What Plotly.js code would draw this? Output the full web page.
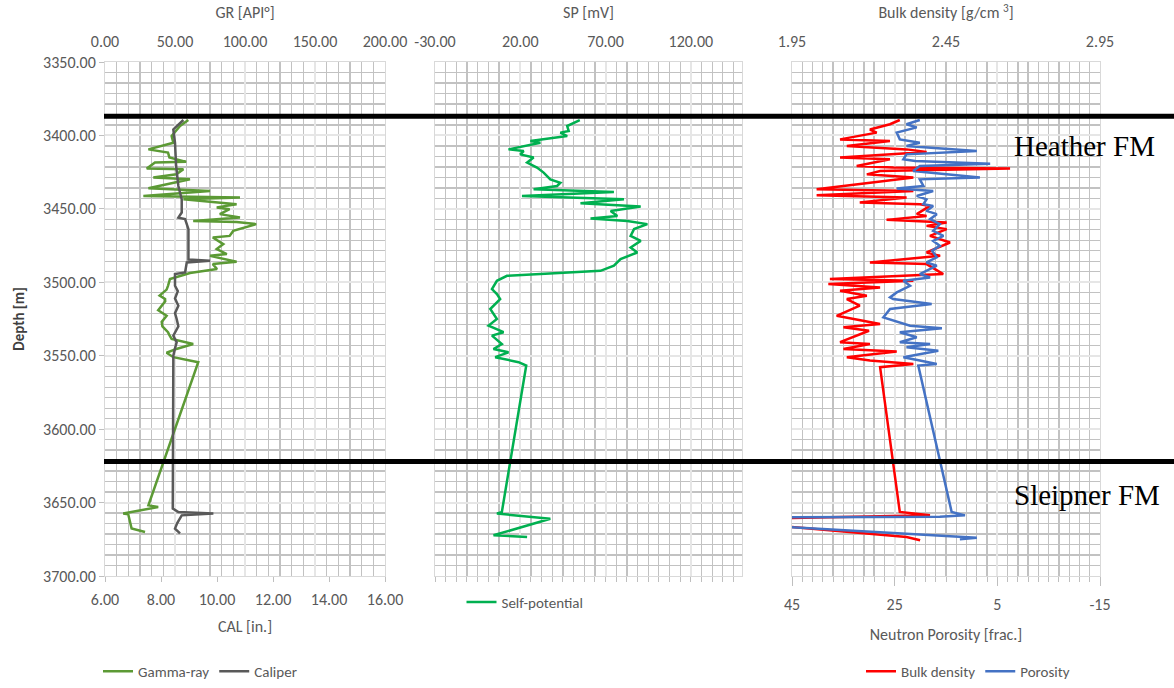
<!DOCTYPE html>
<html>
<head>
<meta charset="utf-8">
<script src="https://cdn.plot.ly/plotly-3.0.1.min.js"></script>
<style>html,body{margin:0;padding:0;background:#fff;}#chart{width:1174px;height:688px;}</style>
</head>
<body>
<div id="chart"></div>
<script>
// ---- Data ----
const gr_depth = [3389.5,3393.6,3400.4,3405,3409.5,3411.7,3415,3418,3418.5,3422.6,3423,3426.5,3428.7,3429.9,3436,3437.8,3441.2,3442.3,3443.5,3446.8,3449,3450.2,3453.6,3455.9,3458.2,3458.9,3460.4,3465,3468.4,3469.5,3474,3477.4,3480.8,3482,3486,3487.6,3491,3493.7,3495,3497.8,3502.4,3505,3509,3511.4,3513,3516,3519,3522.8,3525,3527,3530,3534,3536,3538.6,3542,3545.4,3548,3551,3554.4,3651.9,3653,3657.5,3658,3667.7,3670];
const gr_api = [59.5,53.6,47.6,48.8,31,45,46,58,35.7,29.8,56,51,34.5,60.7,31,75,27.4,96.4,56,94,79.8,89,82,96.4,63,94,108,91.6,89,77,84.5,79.8,87,75,94,77,80,60.7,56,46.4,45,44,39,42.9,43,40.5,38,44,42,40.5,41,45,46,47.6,63,51,44,48.8,66.6,31,38,13,16.6,19,28.6];

const cal_depth = [3389.5,3395.9,3405,3420.8,3434.4,3443.5,3452.5,3456,3457,3463.8,3484.5,3485.4,3486.5,3493.3,3494.4,3502.4,3506,3511,3516,3521,3525,3530,3536.4,3540.8,3545,3550,3554,3654,3656.4,3657.5,3658.7,3664,3667.7,3671];
const cal_in = [8.80,8.44,8.50,8.54,8.62,8.74,8.74,8.62,8.86,8.98,8.98,9.75,8.92,8.86,8.50,8.50,8.60,8.50,8.62,8.50,8.56,8.62,8.44,8.56,8.50,8.44,8.44,8.42,8.62,9.87,8.74,8.58,8.50,8.68];

const sp_depth = [3389.5,3393.6,3397,3398.1,3400.4,3403.8,3405,3409.5,3410.6,3412.9,3415,3418.5,3421.9,3425.3,3429.9,3432.2,3434.4,3436.7,3438.5,3441.2,3443.5,3446.2,3448.4,3451.4,3454.8,3456.6,3458.2,3460.4,3463.8,3468.4,3471.8,3476.3,3479.7,3484.2,3488.7,3492.2,3495.6,3499,3504.6,3508,3511.4,3518.2,3525,3529.5,3534,3536.3,3542,3545.4,3547.7,3551,3554.4,3556.7,3656.4,3657.5,3661,3672.3,3673.4];
const sp_mv = [54.9,47.5,48.4,43.5,47.5,25.9,31.8,13.1,22,20,27.8,24,29.8,33.7,37.6,43.5,41.6,27.8,74.9,21,80.8,55.3,90.6,73,76.9,61.2,82.7,94.5,86.7,84.7,90.6,84.7,88.6,78.8,74.9,67,12.2,6.3,3.4,6.3,8.2,2.4,6.3,1.4,10.2,3.4,9.2,4.3,13.1,5.3,19,23.5,9.2,6.3,37.6,4.3,24];

const rhob_depth = [3389.5,3392.4,3396,3398.1,3402.7,3403.8,3407.2,3409.5,3411.3,3415,3416.2,3420.8,3421.9,3422.6,3424.2,3426.5,3428.7,3431.7,3436.7,3437.8,3440.7,3442.3,3445.7,3446.8,3448,3453.6,3454.8,3457.5,3459.3,3461.6,3463.8,3468.4,3472.9,3479.7,3482,3486.5,3487.6,3494.4,3497.8,3499,3501.2,3503.5,3505.8,3509.2,3511.4,3515.9,3522.8,3528.4,3530.6,3533,3540.8,3542,3545.4,3547.2,3551,3553.3,3555.6,3557.8,3656.4,3658.7,3661.6,3673.4,3675.7];
const rhob_gcc = [2.30,2.268,2.203,2.225,2.106,2.268,2.128,2.322,2.387,2.106,2.268,2.16,2.279,2.658,2.236,2.193,2.344,2.225,2.03,2.344,2.03,2.322,2.17,2.366,2.398,2.355,2.387,2.257,2.452,2.387,2.452,2.398,2.463,2.387,2.431,2.203,2.387,2.441,2.073,2.344,2.068,2.236,2.106,2.193,2.128,2.17,2.095,2.236,2.117,2.2,2.106,2.203,2.117,2.29,2.128,2.203,2.344,2.236,2.30,2.398,1.677,2.322,2.366];

const nphi_depth = [3389.5,3392.4,3394.5,3398.1,3402.7,3405,3407.2,3410.6,3412.9,3416.2,3417.4,3419.2,3420.8,3424.2,3428.7,3429.9,3434.4,3436.2,3437.8,3441.2,3443.5,3446.8,3448,3451.4,3453.6,3457,3460.4,3465,3468.4,3471.8,3475.2,3478.5,3483,3486.5,3488.7,3494.4,3496.7,3499,3502.4,3506.9,3510.3,3511.4,3514.8,3518.2,3523.9,3527.4,3529.6,3531.3,3534,3537.4,3540.8,3542,3544.3,3546.6,3551,3553.3,3555.6,3556.7,3656.4,3658.7,3659.7,3660.5,3673.4,3674,3675];
const nphi_val = [20.1,22.7,20.7,24.6,24,20.1,22.7,9.0,22.7,23.3,21,6.4,20.1,21.4,8.4,20.1,19.4,24.6,17.5,20.7,18.8,19.4,17.5,18.8,16.8,18.1,16.2,17.5,15.5,17.5,16.2,17.7,16.8,18.8,16.8,20.1,18.1,23.3,22,24.6,25.9,25.3,17.8,25.9,27.2,24,22,15.8,24,20.7,24,18.1,22.7,16.5,23.3,20.1,16.8,20.4,13.9,11.3,16.2,77,12.9,9.0,12.3];

// tick labels (hyphen-minus as in the reference)
const sp_tickvals = [-30, 20, 70, 120];
const sp_ticklabels = ['-30.00', '20.00', '70.00', '120.00'];
const nphi_tickvals = [45, 25, 5, -15];
const nphi_ticklabels = ['45', '25', '5', '-15'];

const top_depths = [3387, 3622];
const top_names = ['Heather FM', 'Sleipner FM'];
const top_label_depths = [3407, 3645];

// ---- Styling ----
const FONT = 'Calibri, Carlito, Lato, sans-serif';
const TXT = '#595959';
const FS = 16;
const W = 1174;
const p1 = [105/W, 385/W], p2 = [435/W, 742/W], p3 = [792/W, 1100/W];
const MAJ = '#e6e6e6', MIN = '#c2c2c2', BORDER = '#d9d9d9';

function baseX(extra){
  return Object.assign({
    showgrid:false, zeroline:false, showline:true, linecolor:BORDER, linewidth:1,
    tickfont:{family:FONT, size:FS, color:TXT}, ticks:''
  }, extra);
}
function yAx(extra){
  return Object.assign({
    range:[3700,3350], tick0:3350, dtick:50, tickformat:'.2f',
    showgrid:true, gridcolor:MAJ, gridwidth:2, zeroline:false,
    showline:true, linecolor:BORDER, mirror:true,
    minor:{tick0:3350, dtick:50/7, showgrid:true, gridcolor:MIN, gridwidth:1.3},
    tickfont:{family:FONT, size:FS, color:TXT}
  }, extra);
}
function ttl(text, standoff){
  return {text:text, font:{family:FONT, size:FS, color:TXT}, standoff:standoff};
}

const traces = [
  {x:gr_api, y:gr_depth, xaxis:'x', yaxis:'y', mode:'lines', name:'Gamma-ray', legend:'legend',
   line:{color:'#5c9a35', width:2.5}},
  {x:cal_in, y:cal_depth, xaxis:'x2', yaxis:'y', mode:'lines', name:'Caliper', legend:'legend',
   line:{color:'#595959', width:2.5}},
  {x:sp_mv, y:sp_depth, xaxis:'x3', yaxis:'y2', mode:'lines', name:'Self-potential', legend:'legend2',
   line:{color:'#00b050', width:2.5}},
  {x:[], y:[], xaxis:'x4', yaxis:'y2', mode:'lines', showlegend:false, hoverinfo:'skip'},
  {x:rhob_gcc, y:rhob_depth, xaxis:'x5', yaxis:'y3', mode:'lines', name:'Bulk density', legend:'legend3',
   line:{color:'#ff0000', width:2.5}},
  {x:nphi_val, y:nphi_depth, xaxis:'x6', yaxis:'y3', mode:'lines', name:'Porosity', legend:'legend3',
   line:{color:'#4472c4', width:2.5}}
];

const shapes = top_depths.map(d => ({
  type:'line', xref:'paper', yref:'y', x0:104/W, x1:1.0, y0:d, y1:d,
  line:{color:'#000', width:5}, layer:'above'
}));
const annotations = top_names.map((t,i) => ({
  text:t, xref:'paper', yref:'y', x:1012/W, y:top_label_depths[i], xanchor:'left', yanchor:'middle',
  showarrow:false, font:{family:'"Liberation Serif", "Times New Roman", serif', size:29, color:'#000'}
}));

const legendFont = {family:FONT, size:15, color:TXT};
const layout = {
  width:1174, height:688,
  margin:{l:0, r:0, t:62, b:111},
  paper_bgcolor:'#fff', plot_bgcolor:'#fff',
  showlegend:true,
  xaxis: baseX({domain:p1, anchor:'y', side:'top', range:[0,200], tick0:0, dtick:50, tickformat:'.2f',
    showgrid:true, gridcolor:MAJ, gridwidth:2, mirror:true, ticklabelstandoff:8,
    minor:{tick0:0, dtick:50/6, showgrid:true, gridcolor:MIN, gridwidth:1.3},
    title:ttl('GR [API°]', 8)}),
  xaxis2: baseX({overlaying:'x', anchor:'y', side:'bottom', range:[6,16], tick0:6, dtick:2, tickformat:'.2f',
    ticks:'outside', ticklen:5, tickcolor:'#bfbfbf', ticklabelstandoff:4,
    title:ttl('CAL [in.]', 12)}),
  xaxis3: baseX({domain:p2, anchor:'y2', side:'top', range:[-30,150],
    tickmode:'array', tickvals:sp_tickvals, ticktext:sp_ticklabels,
    showgrid:true, gridcolor:MAJ, gridwidth:2, mirror:true, ticklabelstandoff:8,
    minor:{tick0:-30, dtick:6.25, showgrid:true, gridcolor:MIN, gridwidth:1.3},
    title:ttl('SP [mV]', 8)}),
  xaxis4: baseX({overlaying:'x3', anchor:'y2', side:'bottom', range:[-30,150], tick0:-30, dtick:6.25,
    showticklabels:false, ticks:'outside', ticklen:5, tickcolor:'#bfbfbf'}),
  xaxis5: baseX({domain:p3, anchor:'y3', side:'top', range:[1.95,2.95], tick0:1.95, dtick:0.5, tickformat:'.2f',
    mirror:true, ticklabelstandoff:8,
    title:ttl('Bulk density [g/cm <sup>3</sup>]', 8)}),
  xaxis6: baseX({overlaying:'x5', anchor:'y3', side:'bottom', range:[45,-15],
    tickmode:'array', tickvals:nphi_tickvals, ticktext:nphi_ticklabels,
    showgrid:true, gridcolor:MAJ, gridwidth:2,
    ticks:'outside', ticklen:9, tickcolor:'#bfbfbf', ticklabelstandoff:5,
    minor:{tick0:45, dtick:2, showgrid:true, gridcolor:MIN, gridwidth:1.3, ticks:'outside', ticklen:5, tickcolor:'#bfbfbf'},
    title:ttl('Neutron Porosity [frac.]', 15)}),
  yaxis: yAx({domain:[0,1], anchor:'x', ticks:'outside', ticklen:5, tickcolor:'#bfbfbf',
    title:{text:'<b>Depth [m]</b>', font:{family:FONT, size:15, color:'#404040'}, standoff:14}}),
  yaxis2: yAx({domain:[0,1], anchor:'x3', matches:'y', showticklabels:false}),
  yaxis3: yAx({domain:[0,1], anchor:'x5', matches:'y', showticklabels:false}),
  legend: {orientation:'h', x:200/W, xanchor:'center', y:-0.186, yanchor:'middle', font:legendFont, bgcolor:'rgba(0,0,0,0)'},
  legend2:{orientation:'h', x:525/W, xanchor:'center', y:-0.049, yanchor:'middle', font:legendFont, bgcolor:'rgba(0,0,0,0)'},
  legend3:{orientation:'h', x:968/W, xanchor:'center', y:-0.186, yanchor:'middle', font:legendFont, bgcolor:'rgba(0,0,0,0)'},
  shapes: shapes,
  annotations: annotations
};

Plotly.newPlot('chart', traces, layout, {displayModeBar:false, staticPlot:true});
</script>
</body>
</html>
